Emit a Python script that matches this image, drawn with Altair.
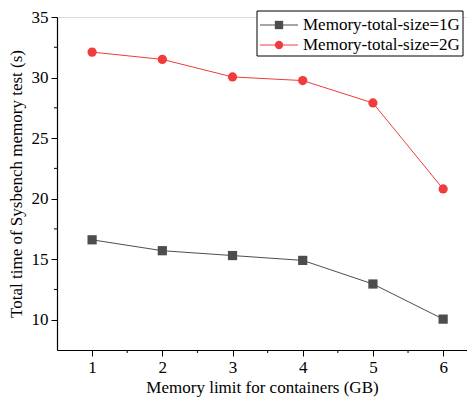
import altair as alt
import pandas as pd

limits = [1, 2, 3, 4, 5, 6]
series_names = ["Memory-total-size=1G", "Memory-total-size=2G"]
time_1g = [16.6, 15.7, 15.3, 14.9, 12.95, 10.05]
time_2g = [32.1, 31.5, 30.05, 29.75, 27.9, 20.8]
colors = ["#4d4d4d", "#f03c3c"]
shapes = ["square", "circle"]

rows = []
for name, vals in zip(series_names, [time_1g, time_2g]):
    for x, y in zip(limits, vals):
        rows.append({"limit": x, "time": y, "series": name})
df = pd.DataFrame(rows)

FONT = "serif"
W, H = 410, 333

xs = alt.X("limit:Q", scale=alt.Scale(domain=[0.5, 6.34], nice=False, zero=False),
           axis=alt.Axis(values=[1, 2, 3, 4, 5, 6], format="d", title="Memory limit for containers (GB)",
                         grid=False, tickSize=6, labelFontSize=17, titleFontSize=17,
                         labelFont=FONT, titleFont=FONT, domainColor="black", tickColor="black",
                         labelColor="black", titleColor="black", titleFontWeight="normal",
                         labelPadding=3, titlePadding=4, domainWidth=1.2))
ys = alt.Y("time:Q", scale=alt.Scale(domain=[7.5, 35], nice=False, zero=False),
           axis=alt.Axis(values=[10, 15, 20, 25, 30, 35], format="d", title="Total time of Sysbench memory test (s)",
                         grid=False, tickSize=6, labelFontSize=17, titleFontSize=17,
                         labelFont=FONT, titleFont=FONT, domainColor="black", tickColor="black",
                         labelColor="black", titleColor="black", titleFontWeight="normal",
                         labelPadding=3, titlePadding=6, domainWidth=1.2))
color = alt.Color("series:N", scale=alt.Scale(domain=series_names, range=colors), legend=None)
shape = alt.Shape("series:N", scale=alt.Scale(domain=series_names, range=shapes), legend=None)

lines = alt.Chart(df).mark_line(strokeWidth=1).encode(x=xs, y=ys, color=color, detail="series:N")
points = alt.Chart(df).mark_point(filled=True, size=85, opacity=1).encode(x=xs, y=ys, color=color, shape=shape)

# minor ticks
minor_x = pd.DataFrame({"v": [1.5, 2.5, 3.5, 4.5, 5.5]})
minor_y = pd.DataFrame({"v": [12.5, 17.5, 22.5, 27.5, 32.5]})
mx = alt.Chart(minor_x).mark_rule(color="black", strokeWidth=1).encode(
    x=alt.X("v:Q", scale=alt.Scale(domain=[0.5, 6.34], nice=False, zero=False)),
    y=alt.value(H), y2=alt.value(H + 3))
my = alt.Chart(minor_y).mark_rule(color="black", strokeWidth=1).encode(
    y=alt.Y("v:Q", scale=alt.Scale(domain=[7.5, 35], nice=False, zero=False)),
    x=alt.value(0), x2=alt.value(-3))

# custom legend
leg = pd.DataFrame({"series": series_names, "row": [0, 1]})
leg["ly"] = [8, 28]
box = alt.Chart(pd.DataFrame({"a": [0]})).mark_rect(fill="white", stroke="black", strokeWidth=1).encode(
    x=alt.value(200), x2=alt.value(406), y=alt.value(-6), y2=alt.value(39))
leg_lines = alt.Chart(leg).mark_rule(strokeWidth=1).encode(
    x=alt.value(203), x2=alt.value(241), y=alt.Y("ly:Q", scale=None), color=color)
leg_pts = alt.Chart(leg).mark_point(filled=True, size=70, opacity=1).encode(
    x=alt.value(222), y=alt.Y("ly:Q", scale=None), color=color, shape=shape)
leg_txt = alt.Chart(leg).mark_text(align="left", baseline="middle", font=FONT, fontSize=17, color="black").encode(
    x=alt.value(246), y=alt.Y("ly:Q", scale=None), text="series:N")

chart = alt.layer(lines, points, mx, my, box, leg_lines, leg_pts, leg_txt).resolve_scale(
    x="shared", y="shared"
).properties(
    width=W, height=H,
    autosize=alt.AutoSizeParams(type="none"),
    padding={"left": 49, "top": 9, "right": 0, "bottom": 50},
).configure_view(stroke=None).configure(background="white")

chart.save("out.html", embed_options={"renderer": "svg", "actions": False})
